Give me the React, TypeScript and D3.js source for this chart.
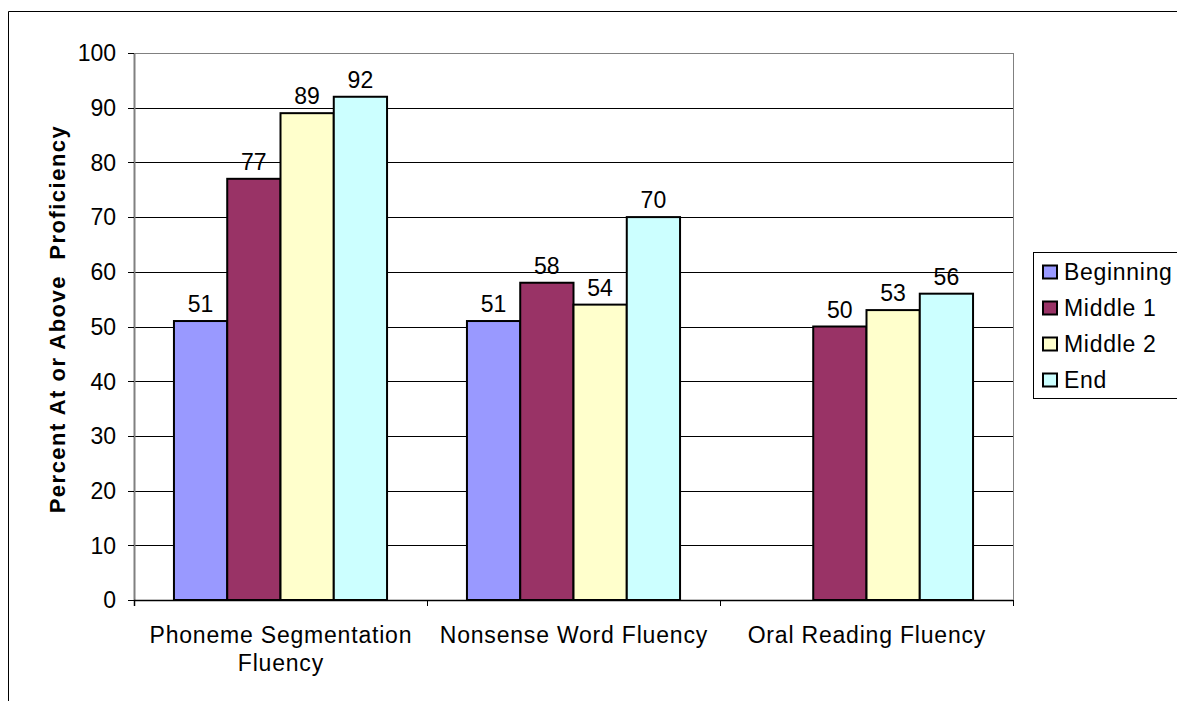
import React from "react";
import * as d3 from "d3";

const categories = ["Phoneme Segmentation Fluency", "Nonsense Word Fluency", "Oral Reading Fluency"];
const categoryLines = [["Phoneme Segmentation", "Fluency"], ["Nonsense Word Fluency"], ["Oral Reading Fluency"]];
const seriesNames = ["Beginning", "Middle 1", "Middle 2", "End"];
const seriesColors = ["#9999FF", "#993366", "#FFFFCC", "#CCFFFF"];
const beginning: (number | null)[] = [51, 51, null];
const middle1: (number | null)[] = [77, 58, 50];
const middle2: (number | null)[] = [89, 54, 53];
const endValues: (number | null)[] = [92, 70, 56];
const yTicks = [0, 10, 20, 30, 40, 50, 60, 70, 80, 90, 100];
const yTitle = "Percent At or Above  Proficiency";

const seriesValues = [beginning, middle1, middle2, endValues];

export default function App() {
  const W = 1177, H = 701;
  const left = 134, right = 1013, top = 53, bottom = 600;
  const font = "Arial, 'Liberation Sans', sans-serif";
  const fs = 23;
  const x0 = d3.scaleBand<string>().domain(categories).range([left, right]).paddingInner(0).paddingOuter(0);
  const x1 = d3.scaleBand<string>().domain(seriesNames).range([0, x0.bandwidth()]).paddingInner(0).paddingOuter(0.75);
  const y = d3.scaleLinear().domain([0, 100]).range([bottom, top]);
  const legendRow = d3.scalePoint<string>().domain(seriesNames).range([272, 380]);

  return (
    <svg width={W} height={H} style={{ position: "absolute", left: 0, top: 0, background: "#fff" }} fontFamily={font}>
      <rect x={0} y={0} width={W} height={H} fill="#fff" />
      {/* outer chart border */}
      <path d={`M8.5,${H} V11.5 H${W}`} fill="none" stroke="#000" strokeWidth={1} />
      {/* gridlines */}
      {yTicks.map((t) => (
        <line key={t} x1={left} x2={right} y1={Math.round(y(t)) + 0.5} y2={Math.round(y(t)) + 0.5} stroke="#000" strokeWidth={1} />
      ))}
      {/* plot area border */}
      <line x1={left} x2={right} y1={top + 0.5} y2={top + 0.5} stroke="#808080" strokeWidth={1} />
      <line x1={right + 0.5} x2={right + 0.5} y1={top} y2={bottom} stroke="#808080" strokeWidth={1} />
      {/* bars */}
      {categories.map((c, ci) =>
        seriesNames.map((s, si) => {
          const v = seriesValues[si][ci];
          if (v == null) return null;
          const bx = (x0(c) as number) + (x1(s) as number);
          const bw = x1.bandwidth();
          return (
            <g key={c + s}>
              <rect x={bx} y={y(v)} width={bw} height={bottom - y(v)} fill={seriesColors[si]} stroke="#000" strokeWidth={2} />
              <text x={bx + bw / 2} y={y(v) - 9} textAnchor="middle" fontSize={fs} fill="#000">{v}</text>
            </g>
          );
        })
      )}
      {/* y axis */}
      <line x1={left + 0.5} x2={left + 0.5} y1={top} y2={bottom + 6} stroke="#808080" strokeWidth={2} />
      {yTicks.map((t) => (
        <g key={"yt" + t}>
          <line x1={left - 6} x2={left} y1={Math.round(y(t)) + 0.5} y2={Math.round(y(t)) + 0.5} stroke="#000" />
          <text x={116} y={y(t) + 8.3} textAnchor="end" fontSize={fs} fill="#000">{t}</text>
        </g>
      ))}
      {/* x axis */}
      <line x1={left} x2={right} y1={bottom + 0.5} y2={bottom + 0.5} stroke="#000" strokeWidth={1.5} />
      {[...categories.map((c) => x0(c) as number), right].map((xv, i) => (
        <line key={"xt" + i} x1={xv + 0.5} x2={xv + 0.5} y1={bottom} y2={bottom + 6} stroke="#000" />
      ))}
      {categories.map((c, ci) => (
        <text key={"xl" + c} x={(x0(c) as number) + x0.bandwidth() / 2} y={643} textAnchor="middle" fontSize={fs} letterSpacing={0.8} fill="#000">
          {categoryLines[ci].map((ln, li) => (
            <tspan key={li} x={(x0(c) as number) + x0.bandwidth() / 2 + 0.4} dy={li === 0 ? 0 : 28}>{ln}</tspan>
          ))}
        </text>
      ))}
      {/* y title */}
      <text transform={`translate(65,319) rotate(-90)`} textAnchor="middle" fontSize={22} fontWeight="bold" letterSpacing={1.5} fill="#000" style={{ whiteSpace: "pre" }}>
        {yTitle}
      </text>
      {/* legend */}
      <rect x={1033.5} y={252.5} width={160} height={146} fill="#fff" stroke="#000" strokeWidth={1} />
      {seriesNames.map((s, i) => {
        const cy = legendRow(s) as number;
        return (
          <g key={"lg" + s}>
            <rect x={1043} y={cy - 6.5} width={14} height={13} fill={seriesColors[i]} stroke="#000" strokeWidth={2} />
            <text x={1064} y={cy + 8.3} fontSize={fs} letterSpacing={0.7} fill="#000">{s}</text>
          </g>
        );
      })}
    </svg>
  );
}
